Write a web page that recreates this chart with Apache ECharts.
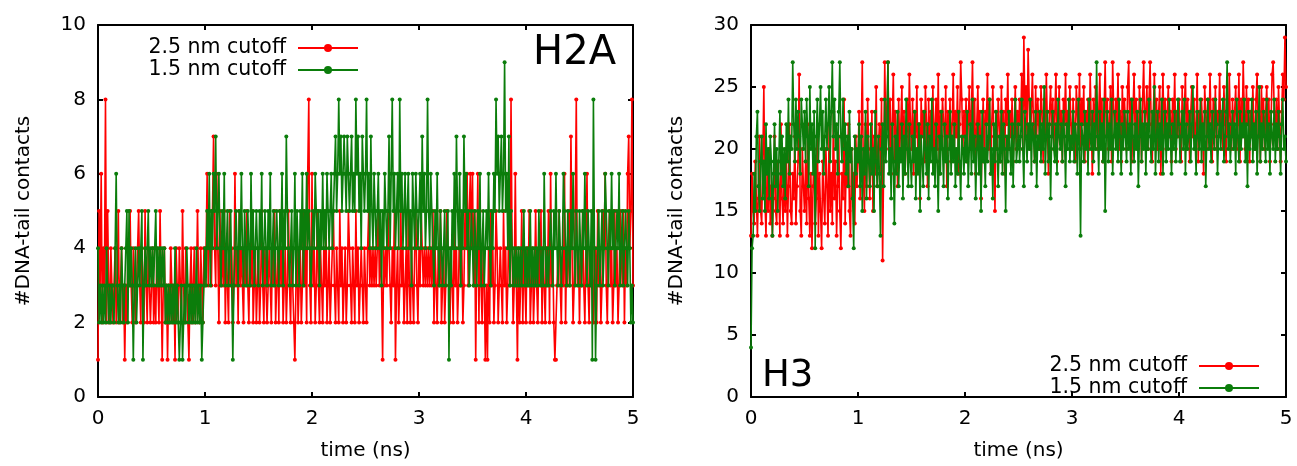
<!DOCTYPE html>
<html>
<head>
<meta charset="utf-8">
<script src="https://cdn.jsdelivr.net/npm/echarts@6/dist/echarts.min.js"></script>
<style>
  html, body { margin: 0; padding: 0; background: #fff; }
  #chart { width: 1297px; height: 466px; }
</style>
</head>
<body>
<div id="chart"></div>
<script>
// sampling step of the trajectories (ns), one row = 0.5 ns
const timeStep = 0.01;
const xTicks = [0, 1, 2, 3, 4, 5];
const seriesNames = ["2.5 nm cutoff", "1.5 nm cutoff"];

// H2A, 2.5 nm cutoff
const h2aWide = [
  1,5,3,6,2,4,3,8,2,5,3,2,4,3,2,3,4,2,3,5,2,3,4,2,3,1,3,2,4,3,5,3,2,4,3,2,3,4,5,3,2,4,3,2,5,3,2,4,3,2,
  3,4,2,3,2,4,3,2,5,3,1,3,4,2,3,1,3,2,4,3,2,3,1,4,3,2,4,3,2,5,3,2,4,3,2,1,3,4,2,3,4,2,3,5,3,2,4,3,2,4,
  3,4,6,3,5,4,3,5,7,4,3,6,4,2,5,3,4,3,5,2,4,3,2,5,3,4,2,3,6,3,4,2,5,3,4,3,2,4,3,5,3,2,4,3,5,2,3,4,2,3,
  4,2,3,5,3,2,4,3,2,3,4,3,2,4,3,5,2,3,4,2,5,3,4,2,3,4,2,3,5,3,2,4,3,2,1,3,4,2,3,4,2,3,5,3,4,2,6,8,3,2,
  6,3,4,2,3,5,3,2,4,3,2,4,3,5,2,3,4,2,3,4,5,3,2,4,3,2,5,3,4,2,3,4,2,3,5,4,3,2,4,3,2,5,3,4,2,3,4,3,2,4,
  3,2,4,5,3,4,3,4,3,4,3,4,5,3,4,3,1,4,3,4,3,5,4,3,2,4,3,5,1,3,4,2,3,5,3,4,2,3,4,2,5,3,2,4,3,2,4,5,3,2,
  4,3,5,4,3,4,3,4,3,4,3,4,3,5,2,4,3,2,4,3,5,2,3,4,2,3,5,4,3,2,4,3,2,5,3,4,2,3,5,3,4,2,3,5,4,6,3,5,6,4,
  6,3,5,1,4,6,2,5,3,2,4,3,1,3,1,4,2,5,3,4,2,3,5,4,2,3,4,3,2,5,3,4,2,3,5,3,8,4,2,3,6,3,1,4,2,3,5,2,4,3,
  2,4,3,5,2,3,4,2,3,5,3,2,4,3,5,2,4,3,2,4,3,5,2,6,3,4,2,1,1,3,4,5,3,2,4,3,6,2,4,3,5,3,7,4,2,3,5,8,3,4,
  2,4,3,5,3,2,4,6,3,2,4,3,5,2,3,4,2,5,3,4,2,3,5,4,6,3,2,4,5,3,4,2,3,5,3,4,2,3,5,4,3,5,2,4,3,6,7,4,5,8,
  3
];
// H2A, 1.5 nm cutoff
const h2aNarrow = [
  4,2,3,2,3,2,3,2,4,3,2,3,2,3,3,2,4,6,3,2,3,2,4,3,2,3,4,5,2,5,3,4,3,1,3,4,2,3,4,3,4,5,1,3,4,3,4,5,3,4,
  3,4,3,4,5,3,4,3,4,3,4,3,4,2,3,2,3,2,3,2,3,2,4,2,3,2,1,2,3,1,2,3,2,4,3,2,3,2,3,2,3,2,4,2,3,2,3,1,2,3,
  4,3,5,4,6,3,5,4,6,5,7,4,5,6,4,3,5,4,6,3,4,5,3,4,5,3,1,3,4,5,4,3,5,4,6,4,3,5,4,3,5,4,3,6,4,5,3,4,5,4,
  3,5,4,6,3,4,5,4,3,5,4,6,3,4,5,3,4,5,4,3,5,4,6,3,5,4,7,5,4,3,4,5,3,4,6,3,5,4,3,5,4,6,3,5,4,6,4,5,4,3,
  4,5,4,6,5,4,5,3,5,4,6,4,5,4,6,5,4,5,6,4,5,6,7,5,6,8,6,7,5,6,7,6,5,7,6,5,6,7,5,6,5,8,6,7,5,6,4,7,6,5,
  6,8,5,6,4,7,5,4,6,5,4,5,6,4,5,3,5,4,6,5,4,5,7,4,6,8,5,6,4,5,6,4,8,5,6,4,5,6,4,5,6,4,5,3,6,5,4,6,5,4,
  5,6,4,7,5,6,4,5,8,5,4,6,5,4,3,5,4,6,4,3,5,4,3,4,5,3,4,5,1,4,3,5,4,6,4,7,5,4,6,3,5,4,7,5,6,4,5,3,4,5,
  4,3,5,4,3,5,4,6,3,4,5,3,4,5,4,6,4,3,5,4,6,5,8,6,7,5,6,7,5,6,9,5,6,4,7,3,5,4,3,4,3,4,3,4,3,4,3,4,5,3,
  4,3,4,3,5,3,4,3,4,3,4,3,5,4,3,4,3,6,4,3,4,3,4,5,4,3,5,4,6,4,3,5,4,3,4,6,5,4,3,5,4,3,5,4,6,4,3,5,4,3,
  5,4,3,5,4,6,4,3,5,4,3,5,1,8,4,1,3,4,5,3,4,5,3,4,6,5,4,3,5,4,6,4,5,3,4,5,4,6,3,4,5,3,4,5,4,3,5,4,2,3,
  2
];
// H3, 2.5 nm cutoff
const h3Wide = [
  13,18,15,14,19,16,13,17,21,15,14,19,25,16,13,18,15,20,14,17,13,16,21,15,14,19,17,13,22,16,14,18,15,20,13,17,22,15,14,18,16,21,14,17,19,26,15,13,20,17,
  15,19,14,22,16,13,18,12,17,20,14,16,21,13,18,15,12,19,16,14,20,17,13,22,15,18,14,23,16,19,13,17,21,15,12,18,16,24,14,19,17,22,15,13,20,16,18,14,21,17,
  19,23,16,21,27,18,15,22,17,24,20,16,19,23,15,21,18,25,17,20,22,18,24,11,19,27,21,23,27,20,24,18,22,26,19,23,21,17,24,20,22,25,19,23,18,21,24,20,26,22,
  20,24,18,23,21,25,19,22,16,24,21,23,19,25,22,17,24,20,23,21,25,19,22,24,20,26,18,23,21,24,22,20,25,17,23,21,24,19,22,26,20,23,21,25,18,22,27,24,20,23,
  21,24,19,22,25,20,23,27,21,24,18,22,25,20,23,16,21,24,19,23,22,26,20,24,18,22,25,21,15,23,20,24,22,19,25,21,23,18,24,22,26,20,23,21,24,19,22,25,20,23,
  21,24,22,26,20,29,23,25,21,28,24,20,23,26,22,19,25,21,24,22,20,25,23,19,24,21,26,22,18,23,25,21,24,20,23,26,19,22,25,21,23,19,24,22,26,20,23,21,25,22,
  20,24,22,19,25,23,21,26,20,24,22,25,19,23,21,24,20,26,22,18,24,21,25,22,20,23,26,21,24,19,23,27,21,24,20,22,25,19,27,23,21,24,22,26,20,23,19,25,22,24,
  22,20,25,27,21,24,19,23,26,21,24,22,20,25,23,19,24,27,21,23,25,20,24,27,22,19,23,26,21,24,20,23,25,18,22,26,21,24,20,23,25,21,23,19,24,22,26,20,23,21,
  24,22,19,25,21,23,26,20,24,22,19,23,25,21,24,20,22,26,19,23,21,24,22,18,25,23,20,24,21,26,22,19,24,21,25,20,23,22,26,21,23,20,25,22,19,24,21,26,22,20,
  24,21,23,25,20,22,26,19,24,21,27,23,20,25,22,24,19,23,21,25,22,20,24,26,21,23,19,25,22,24,20,23,25,21,24,19,22,26,27,23,21,24,20,25,22,19,23,26,24,29,
  25
];
// H3, 1.5 nm cutoff
const h3Narrow = [
  4,12,13,18,15,21,23,17,15,19,21,16,19,15,22,18,20,16,21,19,13,18,22,17,20,15,19,23,18,21,17,20,16,22,19,24,18,21,20,27,22,19,24,20,23,21,18,24,22,20,
  23,19,24,21,17,25,20,22,18,23,12,21,24,19,22,25,20,23,18,21,24,20,22,25,19,23,27,21,24,20,22,18,23,27,21,19,24,20,22,18,21,17,23,19,20,16,12,21,18,20,
  19,22,17,21,15,20,18,23,16,21,19,17,22,18,20,15,23,19,17,21,18,13,20,22,17,24,19,21,27,18,20,16,22,19,14,21,18,23,17,20,19,22,16,21,18,24,20,17,22,19,
  17,21,19,23,16,20,18,22,15,21,19,17,23,20,18,22,16,21,19,24,18,20,17,22,19,15,21,18,23,20,17,22,19,21,16,20,23,18,21,19,22,17,20,18,23,19,16,21,20,18,
  21,19,23,17,20,22,18,24,19,21,16,20,22,18,21,15,23,19,20,17,22,19,21,24,18,20,16,22,19,23,20,17,21,19,23,18,22,20,15,21,19,23,20,18,22,17,21,24,19,20,
  22,19,21,24,20,17,23,21,19,22,20,24,18,22,21,19,23,17,21,20,23,19,22,20,25,18,21,23,19,22,16,21,23,20,19,22,18,24,21,20,22,19,23,21,17,22,20,24,19,21,
  20,23,19,22,21,18,24,20,13,22,21,19,23,20,22,18,24,21,20,23,19,22,20,27,21,18,23,20,22,19,24,15,21,23,19,22,20,24,18,21,23,20,22,19,24,21,18,22,20,23,
  21,19,23,20,22,18,24,21,19,22,20,23,17,21,24,19,22,20,23,18,22,20,24,21,19,23,20,25,18,21,23,19,22,20,24,18,21,23,19,22,20,24,21,18,22,20,23,19,21,24,
  22,19,21,23,20,24,18,22,20,21,23,19,22,25,20,21,18,23,21,20,24,19,22,20,23,17,21,24,20,22,19,23,21,20,24,22,18,21,23,20,22,24,19,21,23,27,20,22,19,21,
  23,20,22,18,24,21,19,23,20,22,21,24,19,22,17,23,20,21,24,19,22,20,23,18,21,25,19,22,20,23,21,19,24,20,22,18,23,21,20,24,19,22,20,23,21,18,22,24,20,21,
  19
];

const red = "#ff0000";
const green = "#0b7d0b";
const font = "DejaVu Sans";

function toPairs(values) {
  return values.map((v, i) => [+(i * timeStep).toFixed(2), v]);
}

function makeX(gridIndex, mirror) {
  return {
    type: "value",
    gridIndex: gridIndex,
    position: mirror ? "top" : "bottom",
    min: xTicks[0],
    max: xTicks[xTicks.length - 1],
    interval: 1,
    name: mirror ? "" : "time (ns)",
    nameLocation: "middle",
    nameGap: 44,
    nameTextStyle: { fontFamily: font, fontSize: 20, color: "#000" },
    axisLine: { show: true, onZero: false, lineStyle: { color: "#000", width: 2 } },
    axisTick: { show: true, inside: true, length: 5, lineStyle: { color: "#000", width: 2 } },
    axisLabel: { show: !mirror, margin: 12, fontFamily: font, fontSize: 20, color: "#000" },
    splitLine: { show: false }
  };
}

function makeY(gridIndex, mirror, max, interval) {
  return {
    type: "value",
    gridIndex: gridIndex,
    position: mirror ? "right" : "left",
    min: 0,
    max: max,
    interval: interval,
    name: mirror ? "" : "#DNA-tail contacts",
    nameLocation: "middle",
    nameGap: 64,
    nameTextStyle: { fontFamily: font, fontSize: 20, color: "#000" },
    axisLine: { show: true, onZero: false, lineStyle: { color: "#000", width: 2 } },
    axisTick: { show: true, inside: true, length: 5, lineStyle: { color: "#000", width: 2 } },
    axisLabel: { show: !mirror, margin: 12, fontFamily: font, fontSize: 20, color: "#000" },
    splitLine: { show: false }
  };
}

function makeSeries(name, values, color, axisIndex) {
  return {
    name: name,
    type: "line",
    xAxisIndex: axisIndex,
    yAxisIndex: axisIndex,
    data: toPairs(values),
    symbol: "circle",
    symbolSize: 4,
    showSymbol: true,
    showAllSymbol: true,
    color: color,
    itemStyle: { color: color },
    lineStyle: { color: color, width: 1.6 },
    z: color === green ? 3 : 2
  };
}

function makeLegend(pos) {
  return Object.assign({
    orient: "vertical",
    align: "right",
    data: seriesNames,
    itemWidth: 60,
    itemHeight: 10,
    itemGap: 0,
    selectedMode: false,
    textStyle: {
      fontFamily: font,
      fontSize: 20.5,
      lineHeight: 22,
      color: "#000",
      padding: [0, 7, 0, 0]
    }
  }, pos);
}

let myChart = echarts.init(document.getElementById("chart"));
let option = {
  animation: false,
  backgroundColor: "#fff",
  title: [
    { text: "H2A", right: 676, top: 29, textStyle: { fontFamily: font, fontSize: 40, fontWeight: "normal", color: "#000" } },
    { text: "H3", left: 757, top: 353, textStyle: { fontFamily: font, fontSize: 37, fontWeight: "normal", color: "#000" } }
  ],
  legend: [
    makeLegend({ right: 933, top: 32 }),
    makeLegend({ right: 32, top: 350 })
  ],
  grid: [
    { left: 98, right: 664, top: 25, bottom: 66 },
    { left: 751, right: 11, top: 25, bottom: 66 }
  ],
  xAxis: [makeX(0, false), makeX(1, false), makeX(0, true), makeX(1, true)],
  yAxis: [makeY(0, false, 10, 2), makeY(1, false, 30, 5), makeY(0, true, 10, 2), makeY(1, true, 30, 5)],
  series: [
    makeSeries(seriesNames[0], h2aWide, red, 0),
    makeSeries(seriesNames[1], h2aNarrow, green, 0),
    makeSeries(seriesNames[0], h3Wide, red, 1),
    makeSeries(seriesNames[1], h3Narrow, green, 1)
  ]
};
myChart.setOption(option, true);
window.addEventListener("resize", () => {
  myChart.resize();
});
</script>
</body>
</html>
